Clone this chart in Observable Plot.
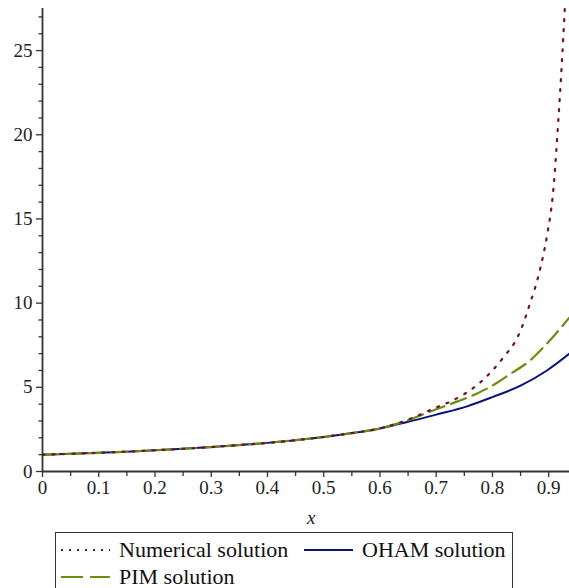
<!DOCTYPE html>
<html>
<head>
<meta charset="utf-8">
<script src="https://cdn.jsdelivr.net/npm/d3@7"></script>
<script src="https://cdn.jsdelivr.net/npm/@observablehq/plot@0.6"></script>
</head>
<body style="margin:0;background:#fff">
<div id="wrap" style="position:relative;width:569px;height:588px;overflow:hidden">
  <div id="chart"></div>
  <div id="legend" style="position:absolute;left:55px;top:532px;width:456px;height:70px;border:1.5px solid #333;font-family:'Liberation Serif';font-size:22px;color:#111"></div>
</div>
<script>
// ---- data ----
const commonX = [0, 0.05, 0.1, 0.15, 0.2, 0.25, 0.3, 0.35, 0.4, 0.45, 0.5, 0.55, 0.6];
const commonY = [1.0, 1.05, 1.11, 1.18, 1.26, 1.35, 1.45, 1.57, 1.70, 1.86, 2.05, 2.28, 2.56];

const numX = [0.65, 0.7, 0.725, 0.75, 0.775, 0.8, 0.82, 0.845, 0.855, 0.865, 0.88, 0.89, 0.897, 0.909, 0.917, 0.924, 0.928, 0.931];
const numY = [3.08, 3.8, 4.15, 4.6, 5.2, 6.0, 6.8, 8.0, 8.8, 9.8, 11.4, 12.8, 14.0, 17.0, 20.8, 24.6, 27.1, 29.0];

const pimX = [0.65, 0.7, 0.737, 0.767, 0.797, 0.832, 0.867, 0.897, 0.937];
const pimY = [3.05, 3.7, 4.15, 4.55, 5.05, 5.8, 6.6, 7.6, 9.15];

const ohamX = [0.65, 0.7, 0.755, 0.8, 0.85, 0.897, 0.937];
const ohamY = [2.95, 3.38, 3.87, 4.42, 5.1, 6.0, 7.0];

const xTicks = [0, 0.1, 0.2, 0.3, 0.4, 0.5, 0.6, 0.7, 0.8, 0.9];
const yTicks = [0, 5, 10, 15, 20, 25];

const seriesNames = ["Numerical solution", "OHAM solution", "PIM solution"];
const seriesColors = ["#701030", "#0a1478", "#6b8e10"];

// ---- build tables ----
const toRows = (xs, ys) => xs.map((x, i) => ({x, y: ys[i]}));
const common = toRows(commonX, commonY);
const numerical = common.concat(toRows(numX, numY));
const pim = common.concat(toRows(pimX, pimY));
const oham = common.concat(toRows(ohamX, ohamY));

const xMinor = d3.range(0.05, 0.94, 0.1);
const yMinor = d3.range(0, 28, 1).filter(v => v % 5 !== 0);

const serif = "'Liberation Serif'";

const chart = Plot.plot({
  width: 569,
  height: 530,
  marginLeft: 42,
  marginRight: 0,
  marginTop: 8,
  marginBottom: 59,
  style: {fontFamily: serif, fontSize: "19px", color: "#222", background: "#fff"},
  x: {domain: [0, 0.937]},
  y: {domain: [0, 27.5]},
  marks: [
    Plot.line(oham, {x: "x", y: "y", stroke: seriesColors[1], strokeWidth: 2, curve: "monotone-x", clip: true}),
    Plot.line(pim, {x: "x", y: "y", stroke: seriesColors[2], strokeWidth: 2.2, strokeDasharray: "16,7", curve: "monotone-x", clip: true}),
    Plot.line(numerical, {x: "x", y: "y", stroke: seriesColors[0], strokeWidth: 2.2, strokeDasharray: "2,8", curve: "monotone-x", clip: true}),
    Plot.axisX({ticks: xTicks, tickSize: 6, tickPadding: 3, fontSize: 19, tickFormat: d => d === 0 ? "0" : d3.format(".1f")(d), label: null, stroke: "#333", strokeWidth: 1.3}),
    Plot.axisX({ticks: xMinor, tickSize: 5, text: null, label: null, stroke: "#333", strokeWidth: 1.3}),
    Plot.axisY({ticks: yTicks, tickSize: 6, tickPadding: 4, fontSize: 19, label: null, stroke: "#333", strokeWidth: 1.3}),
    Plot.axisY({ticks: yMinor, tickSize: 3.5, text: null, label: null, stroke: "#333", strokeWidth: 1.3}),
    Plot.ruleY([0], {stroke: "#333", strokeWidth: 1.8}),
    Plot.ruleX([0], {stroke: "#333", strokeWidth: 1.8}),
    Plot.text(["x"], {x: 0.478, y: -2.75, text: d => d, fontStyle: "italic", fontSize: 19, clip: false})
  ]
});
document.getElementById("chart").appendChild(chart);
d3.select(chart).selectAll("text").attr("font-family", "Liberation Serif").style("font-family", "'Liberation Serif'");

// ---- legend ----
const legend = document.getElementById("legend");
const items = [
  {name: seriesNames[0], color: seriesColors[0], dash: "2,6", left: 4, top: 4},
  {name: seriesNames[1], color: seriesColors[1], dash: null, left: 247, top: 4},
  {name: seriesNames[2], color: seriesColors[2], dash: "22,7", left: 4, top: 31}
];
for (const it of items) {
  const div = document.createElement("div");
  div.style.cssText = `position:absolute;left:${it.left}px;top:${it.top}px;display:flex;align-items:center;white-space:nowrap;font-family:'Liberation Serif'`;
  const w = 50;
  div.innerHTML = `<svg width="${w}" height="10" style="margin-right:9px"><line x1="1" y1="5" x2="${w}" y2="5" stroke="${it.color}" stroke-width="2.2" ${it.dash ? `stroke-dasharray="${it.dash}"` : ""}/></svg><span style="font-family:'Liberation Serif'">${it.name}</span>`;
  legend.appendChild(div);
}
</script>
</body>
</html>
